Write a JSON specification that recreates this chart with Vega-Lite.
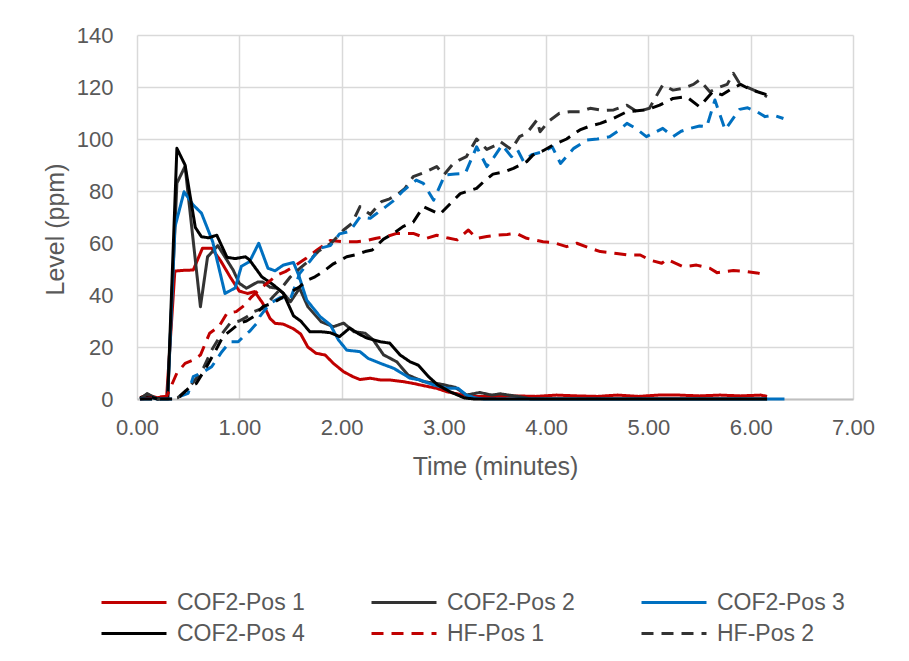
{
  "$schema": "https://vega.github.io/schema/vega-lite/v6.json",
  "autosize": "none",
  "width": 716,
  "height": 364,
  "padding": {"left": 137, "top": 35, "right": 56, "bottom": 262},
  "background": "white",
  "config": {
    "view": {"stroke": null},
    "font": "Liberation Sans",
    "axis": {
      "labelFont": "Liberation Sans",
      "titleFont": "Liberation Sans",
      "labelFontSize": 22,
      "titleFontSize": 25,
      "labelColor": "#595959",
      "titleColor": "#595959",
      "titleFontWeight": "normal",
      "gridColor": "#D9D9D9",
      "gridWidth": 1.5,
      "ticks": false,
      "labelFlush": false
    },
    "legend": {
      "labelFont": "Liberation Sans",
      "labelFontSize": 23,
      "labelColor": "#595959"
    }
  },
  "data": {"values": [
    {"s":"COF2-Pos 1","t":0.03,"v":0.5},{"s":"COF2-Pos 1","t":0.1,"v":1.5},{"s":"COF2-Pos 1","t":0.2,"v":0.5},{"s":"COF2-Pos 1","t":0.29,"v":1},{"s":"COF2-Pos 1","t":0.37,"v":49.2},{"s":"COF2-Pos 1","t":0.46,"v":49.5},{"s":"COF2-Pos 1","t":0.55,"v":49.6},{"s":"COF2-Pos 1","t":0.64,"v":58},{"s":"COF2-Pos 1","t":0.73,"v":58},{"s":"COF2-Pos 1","t":0.82,"v":53},{"s":"COF2-Pos 1","t":0.91,"v":47},{"s":"COF2-Pos 1","t":1.0,"v":41.5},{"s":"COF2-Pos 1","t":1.08,"v":40.6},{"s":"COF2-Pos 1","t":1.15,"v":41.3},{"s":"COF2-Pos 1","t":1.23,"v":36.8},{"s":"COF2-Pos 1","t":1.3,"v":31},{"s":"COF2-Pos 1","t":1.35,"v":29.1},{"s":"COF2-Pos 1","t":1.43,"v":28.8},{"s":"COF2-Pos 1","t":1.53,"v":27},{"s":"COF2-Pos 1","t":1.6,"v":25},{"s":"COF2-Pos 1","t":1.67,"v":20},{"s":"COF2-Pos 1","t":1.75,"v":17.6},{"s":"COF2-Pos 1","t":1.84,"v":16.9},{"s":"COF2-Pos 1","t":1.92,"v":13.7},{"s":"COF2-Pos 1","t":2.02,"v":10.5},{"s":"COF2-Pos 1","t":2.11,"v":8.6},{"s":"COF2-Pos 1","t":2.18,"v":7.5},{"s":"COF2-Pos 1","t":2.28,"v":8},{"s":"COF2-Pos 1","t":2.38,"v":7.3},{"s":"COF2-Pos 1","t":2.47,"v":7.3},{"s":"COF2-Pos 1","t":2.6,"v":6.7},{"s":"COF2-Pos 1","t":2.7,"v":6},{"s":"COF2-Pos 1","t":2.77,"v":5.4},{"s":"COF2-Pos 1","t":2.93,"v":4.1},{"s":"COF2-Pos 1","t":3.03,"v":2.8},{"s":"COF2-Pos 1","t":3.19,"v":1.5},{"s":"COF2-Pos 1","t":3.3,"v":1},{"s":"COF2-Pos 1","t":3.5,"v":1},{"s":"COF2-Pos 1","t":3.7,"v":1.2},{"s":"COF2-Pos 1","t":3.9,"v":1},{"s":"COF2-Pos 1","t":4.1,"v":1.5},{"s":"COF2-Pos 1","t":4.3,"v":1.2},{"s":"COF2-Pos 1","t":4.5,"v":1},{"s":"COF2-Pos 1","t":4.7,"v":1.5},{"s":"COF2-Pos 1","t":4.9,"v":1},{"s":"COF2-Pos 1","t":5.1,"v":1.5},{"s":"COF2-Pos 1","t":5.3,"v":1.5},{"s":"COF2-Pos 1","t":5.5,"v":1.2},{"s":"COF2-Pos 1","t":5.7,"v":1.5},{"s":"COF2-Pos 1","t":5.9,"v":1.2},{"s":"COF2-Pos 1","t":6.1,"v":1.5},{"s":"COF2-Pos 1","t":6.16,"v":1},

    {"s":"COF2-Pos 2","t":0.03,"v":0},{"s":"COF2-Pos 2","t":0.1,"v":2},{"s":"COF2-Pos 2","t":0.2,"v":0},{"s":"COF2-Pos 2","t":0.3,"v":0.5},{"s":"COF2-Pos 2","t":0.39,"v":83},{"s":"COF2-Pos 2","t":0.47,"v":89.5},{"s":"COF2-Pos 2","t":0.62,"v":35.5},{"s":"COF2-Pos 2","t":0.69,"v":54.7},{"s":"COF2-Pos 2","t":0.79,"v":59},{"s":"COF2-Pos 2","t":0.87,"v":54},{"s":"COF2-Pos 2","t":0.94,"v":49.6},{"s":"COF2-Pos 2","t":1.0,"v":44.5},{"s":"COF2-Pos 2","t":1.07,"v":42.6},{"s":"COF2-Pos 2","t":1.18,"v":45},{"s":"COF2-Pos 2","t":1.23,"v":45},{"s":"COF2-Pos 2","t":1.3,"v":43},{"s":"COF2-Pos 2","t":1.37,"v":42.6},{"s":"COF2-Pos 2","t":1.43,"v":40.7},{"s":"COF2-Pos 2","t":1.5,"v":37.4},{"s":"COF2-Pos 2","t":1.59,"v":42.6},{"s":"COF2-Pos 2","t":1.67,"v":35.5},{"s":"COF2-Pos 2","t":1.8,"v":29.7},{"s":"COF2-Pos 2","t":1.92,"v":27.8},{"s":"COF2-Pos 2","t":2.02,"v":29.2},{"s":"COF2-Pos 2","t":2.12,"v":25.9},{"s":"COF2-Pos 2","t":2.23,"v":25.3},{"s":"COF2-Pos 2","t":2.31,"v":22.7},{"s":"COF2-Pos 2","t":2.41,"v":17},{"s":"COF2-Pos 2","t":2.54,"v":14.3},{"s":"COF2-Pos 2","t":2.65,"v":9.2},{"s":"COF2-Pos 2","t":2.8,"v":6.7},{"s":"COF2-Pos 2","t":2.96,"v":5.8},{"s":"COF2-Pos 2","t":3.11,"v":4.5},{"s":"COF2-Pos 2","t":3.22,"v":1.5},{"s":"COF2-Pos 2","t":3.35,"v":2.5},{"s":"COF2-Pos 2","t":3.47,"v":1.5},{"s":"COF2-Pos 2","t":3.55,"v":2},{"s":"COF2-Pos 2","t":3.74,"v":0.9},{"s":"COF2-Pos 2","t":3.85,"v":0},{"s":"COF2-Pos 2","t":6.16,"v":0},

    {"s":"COF2-Pos 3","t":0.03,"v":0},{"s":"COF2-Pos 3","t":0.1,"v":1},{"s":"COF2-Pos 3","t":0.2,"v":0},{"s":"COF2-Pos 3","t":0.3,"v":0.5},{"s":"COF2-Pos 3","t":0.37,"v":66},{"s":"COF2-Pos 3","t":0.46,"v":79.7},{"s":"COF2-Pos 3","t":0.55,"v":74.6},{"s":"COF2-Pos 3","t":0.63,"v":71.5},{"s":"COF2-Pos 3","t":0.74,"v":60.5},{"s":"COF2-Pos 3","t":0.86,"v":40.6},{"s":"COF2-Pos 3","t":0.96,"v":42.7},{"s":"COF2-Pos 3","t":1.02,"v":51},{"s":"COF2-Pos 3","t":1.1,"v":52.8},{"s":"COF2-Pos 3","t":1.19,"v":59.9},{"s":"COF2-Pos 3","t":1.28,"v":50.3},{"s":"COF2-Pos 3","t":1.35,"v":49.3},{"s":"COF2-Pos 3","t":1.43,"v":51.5},{"s":"COF2-Pos 3","t":1.53,"v":52.5},{"s":"COF2-Pos 3","t":1.58,"v":47.7},{"s":"COF2-Pos 3","t":1.66,"v":38},{"s":"COF2-Pos 3","t":1.79,"v":31.7},{"s":"COF2-Pos 3","t":1.89,"v":28.5},{"s":"COF2-Pos 3","t":1.97,"v":22.7},{"s":"COF2-Pos 3","t":2.05,"v":18.8},{"s":"COF2-Pos 3","t":2.18,"v":18.2},{"s":"COF2-Pos 3","t":2.26,"v":15.6},{"s":"COF2-Pos 3","t":2.38,"v":13.7},{"s":"COF2-Pos 3","t":2.51,"v":11.8},{"s":"COF2-Pos 3","t":2.67,"v":8},{"s":"COF2-Pos 3","t":2.77,"v":7.3},{"s":"COF2-Pos 3","t":2.9,"v":5.4},{"s":"COF2-Pos 3","t":3.03,"v":4.1},{"s":"COF2-Pos 3","t":3.14,"v":4.1},{"s":"COF2-Pos 3","t":3.22,"v":1.5},{"s":"COF2-Pos 3","t":3.32,"v":0.3},{"s":"COF2-Pos 3","t":3.4,"v":0},{"s":"COF2-Pos 3","t":6.33,"v":0},

    {"s":"COF2-Pos 4","t":0.03,"v":0.5},{"s":"COF2-Pos 4","t":0.1,"v":1},{"s":"COF2-Pos 4","t":0.2,"v":0},{"s":"COF2-Pos 4","t":0.3,"v":0.5},{"s":"COF2-Pos 4","t":0.39,"v":96.4},{"s":"COF2-Pos 4","t":0.47,"v":90},{"s":"COF2-Pos 4","t":0.57,"v":66},{"s":"COF2-Pos 4","t":0.63,"v":62.4},{"s":"COF2-Pos 4","t":0.7,"v":62},{"s":"COF2-Pos 4","t":0.78,"v":63},{"s":"COF2-Pos 4","t":0.88,"v":54.5},{"s":"COF2-Pos 4","t":0.96,"v":54},{"s":"COF2-Pos 4","t":1.06,"v":54.7},{"s":"COF2-Pos 4","t":1.1,"v":53.5},{"s":"COF2-Pos 4","t":1.22,"v":47},{"s":"COF2-Pos 4","t":1.33,"v":44},{"s":"COF2-Pos 4","t":1.43,"v":40.7},{"s":"COF2-Pos 4","t":1.53,"v":32},{"s":"COF2-Pos 4","t":1.6,"v":30},{"s":"COF2-Pos 4","t":1.69,"v":25.9},{"s":"COF2-Pos 4","t":1.79,"v":25.9},{"s":"COF2-Pos 4","t":1.89,"v":25.5},{"s":"COF2-Pos 4","t":1.98,"v":24},{"s":"COF2-Pos 4","t":2.08,"v":27.3},{"s":"COF2-Pos 4","t":2.17,"v":25},{"s":"COF2-Pos 4","t":2.25,"v":23.4},{"s":"COF2-Pos 4","t":2.38,"v":22},{"s":"COF2-Pos 4","t":2.47,"v":21.5},{"s":"COF2-Pos 4","t":2.57,"v":17},{"s":"COF2-Pos 4","t":2.67,"v":14.3},{"s":"COF2-Pos 4","t":2.75,"v":13},{"s":"COF2-Pos 4","t":2.85,"v":8.6},{"s":"COF2-Pos 4","t":2.94,"v":5.4},{"s":"COF2-Pos 4","t":3.06,"v":2.8},{"s":"COF2-Pos 4","t":3.2,"v":0.4},{"s":"COF2-Pos 4","t":3.3,"v":0},{"s":"COF2-Pos 4","t":6.16,"v":0},

    {"s":"HF-Pos 1","t":0.03,"v":0},{"s":"HF-Pos 1","t":0.15,"v":0.5},{"s":"HF-Pos 1","t":0.29,"v":1},{"s":"HF-Pos 1","t":0.39,"v":10},{"s":"HF-Pos 1","t":0.47,"v":13.7},{"s":"HF-Pos 1","t":0.55,"v":15},{"s":"HF-Pos 1","t":0.62,"v":16.9},{"s":"HF-Pos 1","t":0.71,"v":25.3},{"s":"HF-Pos 1","t":0.8,"v":27.8},{"s":"HF-Pos 1","t":0.88,"v":33},{"s":"HF-Pos 1","t":0.97,"v":33.6},{"s":"HF-Pos 1","t":1.05,"v":36},{"s":"HF-Pos 1","t":1.12,"v":39.3},{"s":"HF-Pos 1","t":1.23,"v":43.2},{"s":"HF-Pos 1","t":1.37,"v":47.7},{"s":"HF-Pos 1","t":1.45,"v":49},{"s":"HF-Pos 1","t":1.53,"v":50.9},{"s":"HF-Pos 1","t":1.65,"v":54},{"s":"HF-Pos 1","t":1.76,"v":57.3},{"s":"HF-Pos 1","t":1.89,"v":61},{"s":"HF-Pos 1","t":2.02,"v":60.5},{"s":"HF-Pos 1","t":2.15,"v":60.5},{"s":"HF-Pos 1","t":2.25,"v":61},{"s":"HF-Pos 1","t":2.34,"v":61.8},{"s":"HF-Pos 1","t":2.44,"v":62.5},{"s":"HF-Pos 1","t":2.54,"v":63.7},{"s":"HF-Pos 1","t":2.7,"v":63.7},{"s":"HF-Pos 1","t":2.83,"v":61.8},{"s":"HF-Pos 1","t":2.93,"v":63},{"s":"HF-Pos 1","t":3.03,"v":62},{"s":"HF-Pos 1","t":3.13,"v":61.2},{"s":"HF-Pos 1","t":3.24,"v":65},{"s":"HF-Pos 1","t":3.32,"v":61.8},{"s":"HF-Pos 1","t":3.42,"v":62.5},{"s":"HF-Pos 1","t":3.52,"v":63},{"s":"HF-Pos 1","t":3.62,"v":63.3},{"s":"HF-Pos 1","t":3.71,"v":63.7},{"s":"HF-Pos 1","t":3.81,"v":61.8},{"s":"HF-Pos 1","t":3.97,"v":60.5},{"s":"HF-Pos 1","t":4.07,"v":60.2},{"s":"HF-Pos 1","t":4.2,"v":58.6},{"s":"HF-Pos 1","t":4.3,"v":59.9},{"s":"HF-Pos 1","t":4.43,"v":58},{"s":"HF-Pos 1","t":4.53,"v":56.7},{"s":"HF-Pos 1","t":4.69,"v":56},{"s":"HF-Pos 1","t":4.79,"v":55.4},{"s":"HF-Pos 1","t":4.92,"v":55.4},{"s":"HF-Pos 1","t":5.01,"v":53.5},{"s":"HF-Pos 1","t":5.13,"v":52.2},{"s":"HF-Pos 1","t":5.18,"v":53.7},{"s":"HF-Pos 1","t":5.34,"v":50.9},{"s":"HF-Pos 1","t":5.47,"v":51.5},{"s":"HF-Pos 1","t":5.6,"v":50.3},{"s":"HF-Pos 1","t":5.67,"v":48.6},{"s":"HF-Pos 1","t":5.83,"v":49.4},{"s":"HF-Pos 1","t":5.96,"v":49},{"s":"HF-Pos 1","t":6.06,"v":48.5},{"s":"HF-Pos 1","t":6.15,"v":47.7},

    {"s":"HF-Pos 2","t":0.03,"v":0},{"s":"HF-Pos 2","t":0.1,"v":2},{"s":"HF-Pos 2","t":0.2,"v":0},{"s":"HF-Pos 2","t":0.3,"v":0},{"s":"HF-Pos 2","t":0.4,"v":0.5},{"s":"HF-Pos 2","t":0.5,"v":4},{"s":"HF-Pos 2","t":0.58,"v":8},{"s":"HF-Pos 2","t":0.65,"v":12},{"s":"HF-Pos 2","t":0.73,"v":18.8},{"s":"HF-Pos 2","t":0.81,"v":24},{"s":"HF-Pos 2","t":0.91,"v":29.1},{"s":"HF-Pos 2","t":1.0,"v":30},{"s":"HF-Pos 2","t":1.07,"v":31.5},{"s":"HF-Pos 2","t":1.14,"v":33.6},{"s":"HF-Pos 2","t":1.23,"v":34.9},{"s":"HF-Pos 2","t":1.33,"v":39.3},{"s":"HF-Pos 2","t":1.42,"v":43},{"s":"HF-Pos 2","t":1.5,"v":47},{"s":"HF-Pos 2","t":1.6,"v":50.5},{"s":"HF-Pos 2","t":1.69,"v":53.5},{"s":"HF-Pos 2","t":1.78,"v":57},{"s":"HF-Pos 2","t":1.9,"v":60},{"s":"HF-Pos 2","t":2.02,"v":65},{"s":"HF-Pos 2","t":2.1,"v":67.5},{"s":"HF-Pos 2","t":2.18,"v":74},{"s":"HF-Pos 2","t":2.28,"v":71},{"s":"HF-Pos 2","t":2.39,"v":75.9},{"s":"HF-Pos 2","t":2.47,"v":77},{"s":"HF-Pos 2","t":2.54,"v":78.5},{"s":"HF-Pos 2","t":2.62,"v":81},{"s":"HF-Pos 2","t":2.7,"v":85.5},{"s":"HF-Pos 2","t":2.8,"v":87},{"s":"HF-Pos 2","t":2.93,"v":89.4},{"s":"HF-Pos 2","t":3.0,"v":86.2},{"s":"HF-Pos 2","t":3.08,"v":90},{"s":"HF-Pos 2","t":3.15,"v":91.9},{"s":"HF-Pos 2","t":3.22,"v":93.2},{"s":"HF-Pos 2","t":3.32,"v":100},{"s":"HF-Pos 2","t":3.42,"v":96},{"s":"HF-Pos 2","t":3.5,"v":97.5},{"s":"HF-Pos 2","t":3.55,"v":99},{"s":"HF-Pos 2","t":3.66,"v":96},{"s":"HF-Pos 2","t":3.74,"v":100.9},{"s":"HF-Pos 2","t":3.81,"v":102.2},{"s":"HF-Pos 2","t":3.91,"v":107.3},{"s":"HF-Pos 2","t":3.94,"v":102.8},{"s":"HF-Pos 2","t":4.03,"v":107},{"s":"HF-Pos 2","t":4.13,"v":109.9},{"s":"HF-Pos 2","t":4.23,"v":110.5},{"s":"HF-Pos 2","t":4.33,"v":110.5},{"s":"HF-Pos 2","t":4.43,"v":111.8},{"s":"HF-Pos 2","t":4.55,"v":111},{"s":"HF-Pos 2","t":4.66,"v":111.2},{"s":"HF-Pos 2","t":4.79,"v":113},{"s":"HF-Pos 2","t":4.89,"v":110.5},{"s":"HF-Pos 2","t":5.01,"v":111.8},{"s":"HF-Pos 2","t":5.07,"v":116},{"s":"HF-Pos 2","t":5.14,"v":120.8},{"s":"HF-Pos 2","t":5.24,"v":118.8},{"s":"HF-Pos 2","t":5.34,"v":119.5},{"s":"HF-Pos 2","t":5.44,"v":121},{"s":"HF-Pos 2","t":5.5,"v":122.7},{"s":"HF-Pos 2","t":5.6,"v":118.2},{"s":"HF-Pos 2","t":5.7,"v":120},{"s":"HF-Pos 2","t":5.77,"v":121},{"s":"HF-Pos 2","t":5.83,"v":125.3},{"s":"HF-Pos 2","t":5.89,"v":121.4},{"s":"HF-Pos 2","t":5.96,"v":120},{"s":"HF-Pos 2","t":6.03,"v":118.8},{"s":"HF-Pos 2","t":6.1,"v":117.5},{"s":"HF-Pos 2","t":6.16,"v":116.3},

    {"s":"HF-Pos 3","t":0.03,"v":0},{"s":"HF-Pos 3","t":0.2,"v":0},{"s":"HF-Pos 3","t":0.35,"v":0},{"s":"HF-Pos 3","t":0.42,"v":1},{"s":"HF-Pos 3","t":0.5,"v":2.2},{"s":"HF-Pos 3","t":0.55,"v":8.6},{"s":"HF-Pos 3","t":0.63,"v":10},{"s":"HF-Pos 3","t":0.73,"v":12.4},{"s":"HF-Pos 3","t":0.83,"v":18.2},{"s":"HF-Pos 3","t":0.91,"v":22},{"s":"HF-Pos 3","t":0.99,"v":22},{"s":"HF-Pos 3","t":1.04,"v":24},{"s":"HF-Pos 3","t":1.1,"v":26},{"s":"HF-Pos 3","t":1.17,"v":29.1},{"s":"HF-Pos 3","t":1.2,"v":31.7},{"s":"HF-Pos 3","t":1.3,"v":36.8},{"s":"HF-Pos 3","t":1.4,"v":39},{"s":"HF-Pos 3","t":1.5,"v":38.5},{"s":"HF-Pos 3","t":1.59,"v":48.3},{"s":"HF-Pos 3","t":1.69,"v":53},{"s":"HF-Pos 3","t":1.79,"v":58},{"s":"HF-Pos 3","t":1.89,"v":59},{"s":"HF-Pos 3","t":1.98,"v":63.5},{"s":"HF-Pos 3","t":2.08,"v":64.5},{"s":"HF-Pos 3","t":2.18,"v":70},{"s":"HF-Pos 3","t":2.28,"v":69.5},{"s":"HF-Pos 3","t":2.41,"v":73.3},{"s":"HF-Pos 3","t":2.5,"v":76},{"s":"HF-Pos 3","t":2.6,"v":80},{"s":"HF-Pos 3","t":2.73,"v":84.2},{"s":"HF-Pos 3","t":2.8,"v":82.9},{"s":"HF-Pos 3","t":2.9,"v":76.5},{"s":"HF-Pos 3","t":3.01,"v":86.2},{"s":"HF-Pos 3","t":3.11,"v":86.5},{"s":"HF-Pos 3","t":3.21,"v":86.8},{"s":"HF-Pos 3","t":3.32,"v":97},{"s":"HF-Pos 3","t":3.42,"v":89.4},{"s":"HF-Pos 3","t":3.49,"v":93},{"s":"HF-Pos 3","t":3.57,"v":97.7},{"s":"HF-Pos 3","t":3.66,"v":93.2},{"s":"HF-Pos 3","t":3.72,"v":95.8},{"s":"HF-Pos 3","t":3.78,"v":91.3},{"s":"HF-Pos 3","t":3.86,"v":94},{"s":"HF-Pos 3","t":3.96,"v":95},{"s":"HF-Pos 3","t":4.06,"v":97},{"s":"HF-Pos 3","t":4.14,"v":90.6},{"s":"HF-Pos 3","t":4.27,"v":96.4},{"s":"HF-Pos 3","t":4.4,"v":99.6},{"s":"HF-Pos 3","t":4.5,"v":100},{"s":"HF-Pos 3","t":4.62,"v":100.9},{"s":"HF-Pos 3","t":4.7,"v":103},{"s":"HF-Pos 3","t":4.79,"v":106},{"s":"HF-Pos 3","t":4.88,"v":104},{"s":"HF-Pos 3","t":4.98,"v":100.9},{"s":"HF-Pos 3","t":5.06,"v":102.5},{"s":"HF-Pos 3","t":5.14,"v":104.1},{"s":"HF-Pos 3","t":5.24,"v":100.9},{"s":"HF-Pos 3","t":5.32,"v":103},{"s":"HF-Pos 3","t":5.41,"v":104.1},{"s":"HF-Pos 3","t":5.5,"v":105},{"s":"HF-Pos 3","t":5.57,"v":104.7},{"s":"HF-Pos 3","t":5.65,"v":115},{"s":"HF-Pos 3","t":5.75,"v":103.5},{"s":"HF-Pos 3","t":5.89,"v":111.4},{"s":"HF-Pos 3","t":5.97,"v":112},{"s":"HF-Pos 3","t":6.06,"v":110.5},{"s":"HF-Pos 3","t":6.14,"v":108.6},{"s":"HF-Pos 3","t":6.22,"v":109.2},{"s":"HF-Pos 3","t":6.32,"v":107.9},

    {"s":"HF-Pos 4","t":0.03,"v":0},{"s":"HF-Pos 4","t":0.2,"v":0},{"s":"HF-Pos 4","t":0.35,"v":0},{"s":"HF-Pos 4","t":0.42,"v":1},{"s":"HF-Pos 4","t":0.52,"v":4.7},{"s":"HF-Pos 4","t":0.58,"v":6},{"s":"HF-Pos 4","t":0.68,"v":12.4},{"s":"HF-Pos 4","t":0.76,"v":18},{"s":"HF-Pos 4","t":0.84,"v":24},{"s":"HF-Pos 4","t":0.92,"v":26.5},{"s":"HF-Pos 4","t":1.0,"v":29.1},{"s":"HF-Pos 4","t":1.07,"v":30},{"s":"HF-Pos 4","t":1.14,"v":31.7},{"s":"HF-Pos 4","t":1.23,"v":35.5},{"s":"HF-Pos 4","t":1.33,"v":37},{"s":"HF-Pos 4","t":1.42,"v":39},{"s":"HF-Pos 4","t":1.5,"v":41},{"s":"HF-Pos 4","t":1.59,"v":43.2},{"s":"HF-Pos 4","t":1.67,"v":45.8},{"s":"HF-Pos 4","t":1.74,"v":47},{"s":"HF-Pos 4","t":1.82,"v":49},{"s":"HF-Pos 4","t":1.92,"v":52},{"s":"HF-Pos 4","t":2.05,"v":54.7},{"s":"HF-Pos 4","t":2.14,"v":55.5},{"s":"HF-Pos 4","t":2.23,"v":56.7},{"s":"HF-Pos 4","t":2.3,"v":57.3},{"s":"HF-Pos 4","t":2.41,"v":61.5},{"s":"HF-Pos 4","t":2.5,"v":63.5},{"s":"HF-Pos 4","t":2.6,"v":66.3},{"s":"HF-Pos 4","t":2.7,"v":68},{"s":"HF-Pos 4","t":2.8,"v":74},{"s":"HF-Pos 4","t":2.96,"v":71},{"s":"HF-Pos 4","t":3.06,"v":75},{"s":"HF-Pos 4","t":3.16,"v":79},{"s":"HF-Pos 4","t":3.32,"v":81},{"s":"HF-Pos 4","t":3.4,"v":84},{"s":"HF-Pos 4","t":3.48,"v":86.5},{"s":"HF-Pos 4","t":3.6,"v":87.5},{"s":"HF-Pos 4","t":3.68,"v":88.7},{"s":"HF-Pos 4","t":3.81,"v":91.3},{"s":"HF-Pos 4","t":3.87,"v":93.8},{"s":"HF-Pos 4","t":3.97,"v":95.5},{"s":"HF-Pos 4","t":4.07,"v":97.7},{"s":"HF-Pos 4","t":4.2,"v":100},{"s":"HF-Pos 4","t":4.33,"v":103.5},{"s":"HF-Pos 4","t":4.43,"v":105},{"s":"HF-Pos 4","t":4.53,"v":106},{"s":"HF-Pos 4","t":4.66,"v":108},{"s":"HF-Pos 4","t":4.79,"v":110.5},{"s":"HF-Pos 4","t":4.98,"v":111.2},{"s":"HF-Pos 4","t":5.11,"v":113},{"s":"HF-Pos 4","t":5.24,"v":115.6},{"s":"HF-Pos 4","t":5.37,"v":116.3},{"s":"HF-Pos 4","t":5.5,"v":112.4},{"s":"HF-Pos 4","t":5.63,"v":118.2},{"s":"HF-Pos 4","t":5.72,"v":117},{"s":"HF-Pos 4","t":5.8,"v":119},{"s":"HF-Pos 4","t":5.9,"v":121},{"s":"HF-Pos 4","t":6.0,"v":119},{"s":"HF-Pos 4","t":6.08,"v":118},{"s":"HF-Pos 4","t":6.16,"v":117}
  ]},
  "mark": {"type": "line", "strokeWidth": 3, "strokeCap": "butt", "strokeJoin": "round"},
  "encoding": {
    "x": {
      "field": "t", "type": "quantitative",
      "scale": {"domain": [0, 7], "nice": false},
      "axis": {"values": [0,1,2,3,4,5,6,7], "format": ".2f", "title": "Time (minutes)", "labelPadding": 18, "titlePadding": 16, "domainColor": "#BFBFBF", "domainWidth": 2}
    },
    "y": {
      "field": "v", "type": "quantitative",
      "scale": {"domain": [0, 140], "nice": false},
      "axis": {"values": [0,20,40,60,80,100,120,140], "title": "Level (ppm)", "labelPadding": 24, "titleX": -82, "titleY": 194, "titleBaseline": "middle", "domain": false}
    },
    "detail": {"field": "s"},
    "order": {"field": "t"},
    "color": {
      "field": "s", "type": "nominal",
      "scale": {
        "domain": ["COF2-Pos 1","COF2-Pos 2","COF2-Pos 3","COF2-Pos 4","HF-Pos 1","HF-Pos 2","HF-Pos 3","HF-Pos 4"],
        "range": ["#C00000","#333333","#0070C0","#000000","#C00000","#333333","#0070C0","#000000"]
      },
      "legend": {
        "title": null, "orient": "none", "legendX": -37, "legendY": 552, "direction": "horizontal",
        "columns": 3, "columnPadding": 65, "rowPadding": 0, "padding": 0, "clipHeight": 31,
        "values": ["COF2-Pos 1","COF2-Pos 2","COF2-Pos 3","COF2-Pos 4","HF-Pos 1","HF-Pos 2"],
        "symbolType": "stroke", "symbolSize": 4225, "symbolStrokeWidth": 3, "labelOffset": 9
      }
    },
    "strokeDash": {
      "field": "s", "type": "nominal",
      "scale": {
        "domain": ["COF2-Pos 1","COF2-Pos 2","COF2-Pos 3","COF2-Pos 4","HF-Pos 1","HF-Pos 2","HF-Pos 3","HF-Pos 4"],
        "range": [[1,0],[1,0],[1,0],[1,0],[12,8],[12,8],[12,8],[12,8]]
      },
      "legend": {
        "title": null, "orient": "none", "legendX": -37, "legendY": 552, "direction": "horizontal",
        "columns": 3, "columnPadding": 65, "rowPadding": 0, "padding": 0, "clipHeight": 31,
        "values": ["COF2-Pos 1","COF2-Pos 2","COF2-Pos 3","COF2-Pos 4","HF-Pos 1","HF-Pos 2"],
        "symbolType": "stroke", "symbolSize": 4225, "symbolStrokeWidth": 3, "labelOffset": 9
      }
    }
  }
}
